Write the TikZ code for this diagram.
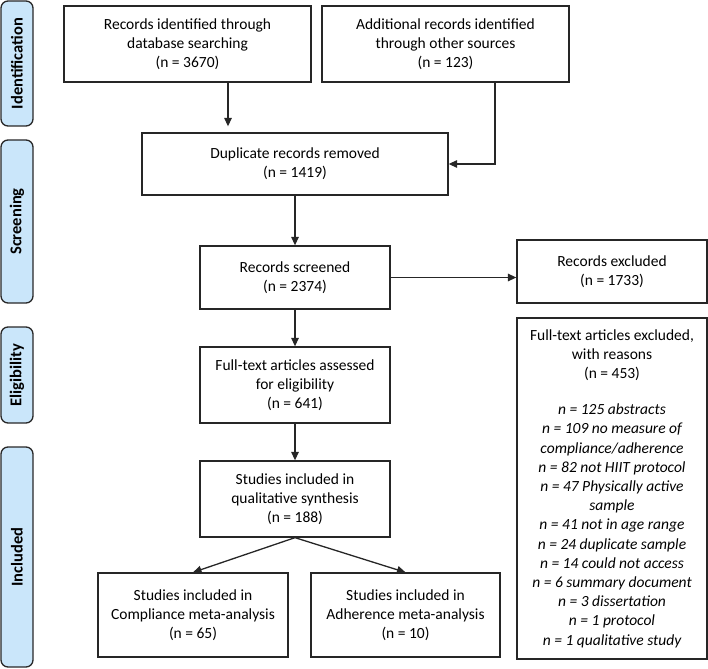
\documentclass[tikz,border=0pt]{standalone}
\usepackage{fontspec}
\setmainfont{Carlito}
\usetikzlibrary{arrows.meta,calc}
\definecolor{phase}{RGB}{202,230,250}
\definecolor{phaseline}{RGB}{40,40,40}
\begin{document}
\begin{tikzpicture}[x=1pt,y=-1pt,
  box/.style={draw=black!85,line width=1.3pt,inner sep=0pt,align=center,
    font=\fontsize{15.5}{19.2}\selectfont},
  phasebox/.style={draw=phaseline,fill=phase,line width=1.3pt,rounded corners=7pt,
    minimum width=32pt,inner sep=0pt},
  phasetext/.style={rotate=90,font=\fontsize{16.5}{19}\selectfont\bfseries},
  arr/.style={line width=1.3pt,draw=black!85,-{Triangle[length=8.5pt,width=7.5pt]}}]
\useasboundingbox (0,0) rectangle (708,668);
% phase labels
\node[phasebox,minimum height=125pt] (pid) at (17,63.5) {};
\node[phasetext] (tid) at (pid.center) {Identification};
\node[phasebox,minimum height=163pt] (psc) at (17,221.5) {};
\node[phasetext] (tsc) at (psc.center) {Screening};
\node[phasebox,minimum height=96pt] (pel) at (17,375) {};
\node[phasetext] (tel) at (pel.center) {Eligibility};
\node[phasebox,minimum height=220pt] (pin) at (17,557) {};
\node[phasetext] (tin) at (pin.center) {Included};
% boxes
\node[box,minimum width=247pt,minimum height=76pt] (id1) at (187.5,44)
  {Records identified through\\database searching\\(n = 3670)};
\node[box,minimum width=247pt,minimum height=76pt] (id2) at (445.5,44)
  {Additional records identified\\through other sources\\(n = 123)};
\node[box,minimum width=306pt,minimum height=62pt] (dup) at (295,164)
  {Duplicate records removed\\(n = 1419)};
\node[box,minimum width=190pt,minimum height=63pt] (scr) at (295,277.5)
  {Records screened\\(n = 2374)};
\node[box,minimum width=190pt,minimum height=63pt] (exc) at (612,271.5)
  {Records excluded\\(n = 1733)};
\node[box,minimum width=190pt,minimum height=76pt] (full) at (295,385)
  {Full-text articles assessed\\for eligibility\\(n = 641)};
\node[box,minimum width=190pt,minimum height=341pt] (big) at (612,488.5)
  {Full-text articles excluded,\\with reasons\\(n = 453)\\[17pt]
   \itshape n = 125 abstracts\\\itshape n = 109 no measure of\\\itshape compliance/adherence\\
   \itshape n = 82 not HIIT protocol\\\itshape n = 47 Physically active\\\itshape sample\\
   \itshape n = 41 not in age range\\\itshape n = 24 duplicate sample\\
   \itshape n = 14 could not access\\\itshape n = 6 summary document\\
   \itshape n = 3 dissertation\\\itshape n = 1 protocol\\\itshape n = 1 qualitative study};
\node[box,minimum width=190pt,minimum height=76pt] (qual) at (295,499)
  {Studies included in\\qualitative synthesis\\(n = 188)};
\node[box,minimum width=190pt,minimum height=84pt] (comp) at (193,615)
  {Studies included in\\Compliance meta-analysis\\(n = 65)};
\node[box,minimum width=189pt,minimum height=84pt] (adh) at (405.5,615)
  {Studies included in\\Adherence meta-analysis\\(n = 10)};
% connectors
\coordinate (a1) at (228,0);
\coordinate (a2) at (495,0);
\draw[arr,shorten >=6pt] (id1.south -| a1) -- (dup.north -| a1);
\draw[arr] (id2.south -| a2) |- (dup.east);
\draw[arr] (dup.south) -- (scr.north);
\draw[arr] (scr.east) -- (scr.east -| exc.west);
\draw[arr] (scr.south) -- (full.north);
\draw[arr] (full.south) -- (qual.north);
\draw[arr] (qual.south) -- (comp.north);
\draw[arr] (qual.south) -- (adh.north);
\end{tikzpicture}
\end{document}
